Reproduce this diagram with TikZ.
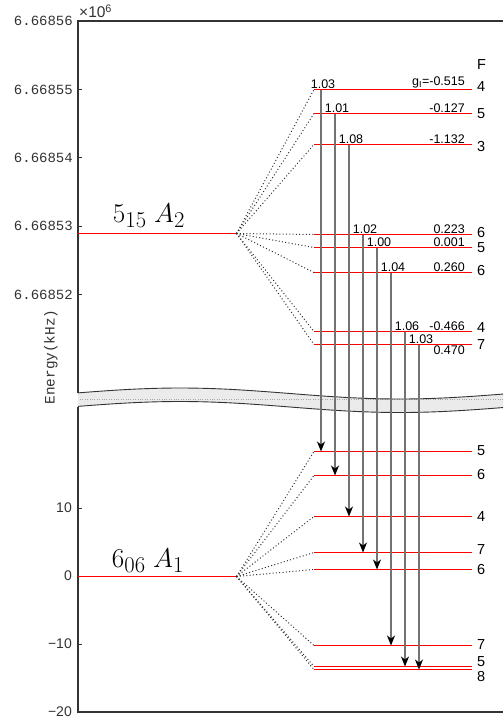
\documentclass[tikz,border=0pt]{standalone}
\usepackage{fontspec}
\setmainfont{Liberation Sans}
\newfontfamily\tickfont{Liberation Mono}
\usetikzlibrary{arrows.meta, calc}

\begin{document}
\begin{tikzpicture}[
      x=1pt, y=-1pt, % pixel grid, y running downwards
      font=\fontsize{12.5}{14}\selectfont,
      axis/.style={line width=1.1pt, black!80},
      tick/.style={line width=0.8pt, black!80},
      ticklab/.style={anchor=east, text=black!80, inner sep=1pt},
      level/.style={red, line width=1.1pt},
      split/.style={dash pattern=on 1pt off 2.3pt, line width=1pt, black!80},
      trans/.style={line width=1.4pt, black!55,
                    -{Stealth[black, length=10pt, width=8pt, inset=3pt]}},
      ratio/.style={above, inner sep=1pt},
      gfac/.style={anchor=south east, inner sep=1pt},
      flab/.style={anchor=west, inner sep=0pt, font=\fontsize{14.5}{16}\selectfont},
      state/.style={anchor=base, scale=1.09, font=\fontsize{24.88}{28}\selectfont},
    ]
    \useasboundingbox (0,0) rectangle (503,725);

    % ---- axis break -------------------------------------------------------
    \fill[black!8] plot[domain=78:503, samples=60] (\x, {393.5-5.5*cos(0.81818*(\x-180))})
      -- plot[domain=503:78, samples=60] (\x, {407-5.5*cos(0.81818*(\x-180))}) -- cycle;
    \draw[black!35, dotted] (80,399.5) -- (503,399.5);
    \draw[axis, line width=0.9pt] plot[domain=78:503, samples=60] (\x, {393.5-5.5*cos(0.81818*(\x-180))});
    \draw[axis, line width=0.9pt] plot[domain=78:503, samples=60] (\x, {407-5.5*cos(0.81818*(\x-180))});

    % ---- axes -------------------------------------------------------------
    \draw[axis] (503,21) -- (78,21) -- (78,393);
    \draw[axis] (78,406.5) -- (78,712) -- (503,712);
    \node[anchor=west, inner sep=0pt, text=black!80, font=\fontsize{15.5}{17}\selectfont]
      (scale) at (79,11) {×10\textsuperscript{6}};
    \node[rotate=90, text=black!80, font=\tickfont\fontsize{14.4}{16}\selectfont]
      (elab) at (51,357) {Energy(kHz)};

    % ---- unit marks -------------------------------------------------------
    \foreach \y/\t [count=\k] in {21/6.66856, 89.5/6.66855, 157.5/6.66854, 226/6.66853, 294.5/6.66852}{%
      \draw[tick] (78,\y) -- (82,\y);
      \node[ticklab, font=\tickfont\fontsize{14}{16}\selectfont] (tu\k) at (74,\y) {\t};
    }
    \foreach \y/\t [count=\k] in {508/10, 576/0, 644/−10, 712/−20}{%
      \draw[tick] (78,\y) -- (82,\y);
      \node[ticklab, font=\fontsize{14}{16}\selectfont] (tl\k) at (73,\y) {\t};
    }

    % ---- rotational states --------------------------------------------------
    \coordinate (fanU) at (236.5,233.5);
    \coordinate (fanL) at (236.5,576.5);
    \draw[level] (78,233.5) -- (fanU);
    \draw[level] (78,576.5) -- (fanL);
    \node[state] (sU) at (149,222.5) {$5_{15}\ A_2$};
    \node[state] (sL) at (148,567.5) {$6_{06}\ A_1$};

    % ---- hyperfine levels, upper state ------------------------------------
    \node[flab] (Fhead) at (477,65) {F};
    \foreach \y/\f/\fy [count=\k] in {89.5/4/87, 113.5/5/114, 144.5/3/147, 234.5/6/233,
                                      247.5/5/248, 272.5/6/271, 331.5/4/328, 344.5/7/345}{%
      \coordinate (u\k) at (314,\y);
      \coordinate (ur\k) at (472,\y);
      \draw[split] (fanU) -- (u\k);
      \draw[level] (u\k) -- (ur\k);
      \node[flab] (fu\k) at (477,\fy) {\f};
    }
    \node[gfac] (g1) at (ur1) [xshift=-6pt] {g\textsubscript{I}=-0.515};
    \node[gfac] (g2) at (ur2) [xshift=-6pt] {-0.127};
    \node[gfac] (g3) at (ur3) [xshift=-6pt] {-1.132};
    \node[gfac] (g4) at (ur4) [xshift=-6pt] {0.223};
    \node[gfac] (g5) at (ur5) [xshift=-6pt] {0.001};
    \node[gfac] (g6) at (ur6) [xshift=-6pt] {0.260};
    \node[gfac] (g7) at (ur7) [xshift=-6pt] {-0.466};
    \node[gfac, anchor=north east] (g8) at (ur8) [xshift=-6pt] {0.470};

    % ---- hyperfine levels, lower state ------------------------------------
    \foreach \y/\f/\fy [count=\k] in {451.5/5/451, 475.5/6/475, 516.5/4/517, 552.5/7/550,
                                      569.5/6/570, 645.5/7/645, 666.5/5/662, 669.5/8/676.5}{%
      \coordinate (l\k) at (314,\y);
      \coordinate (lr\k) at (472,\y);
      \draw[split] (fanL) -- (l\k);
      \draw[level] (l\k) -- (lr\k);
      \node[flab] (fl\k) at (477,\fy) {\f};
    }

    % ---- transitions ------------------------------------------------------
    \foreach \r [count=\k] in {1.03, 1.01, 1.08, 1.02, 1.00, 1.04, 1.06, 1.03}{%
      \pgfmathsetmacro\dx{-7+14*\k}
      \path (u\k) ++(\dx,0) coordinate (a\k);
      \path (l\k) ++(\dx,0) coordinate (b\k);
      \draw[trans] (a\k) -- (b\k);
      \node[ratio] (r\k) at ($(a\k)+(2,0)$) {\r};
    }
  \end{tikzpicture}
\end{document}
